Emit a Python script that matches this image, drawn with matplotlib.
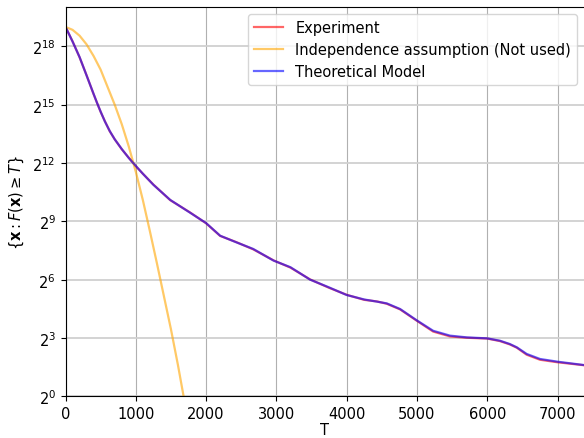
"""
Tail counts |{x : F(x) >= T}| for experiment, independence assumption and model.
"""

import matplotlib
matplotlib.use("Agg")
import matplotlib.pyplot as plt
from matplotlib.ticker import NullLocator

# log2 of the counts
t_model = [0, 100, 200, 300, 400, 450, 500, 560, 630, 700, 800, 900, 1000, 1100, 1250,
           1490, 1770, 2000, 2200, 2430, 2670, 2960, 3200, 3480, 3750, 4000, 4250, 4430,
           4570, 4760, 5000, 5230, 5470, 5710, 6000, 6180, 6320, 6420, 6560, 6750, 7000,
           7370]
log_model = [19.0, 18.25, 17.45, 16.5, 15.55, 15.08, 14.64, 14.14, 13.64, 13.22, 12.72,
             12.26, 11.85, 11.45, 10.88, 10.1, 9.45, 8.91, 8.26, 7.92, 7.58, 6.98, 6.64,
             6.0, 5.6, 5.21, 4.98, 4.87, 4.78, 4.49, 3.9, 3.37, 3.12, 3.03, 2.98, 2.86,
             2.69, 2.52, 2.18, 1.92, 1.78, 1.61]
log_exp = [19.0, 18.26, 17.44, 16.51, 15.54, 15.08, 14.63, 14.15, 13.63, 13.22, 12.71,
           12.27, 11.84, 11.45, 10.89, 10.09, 9.46, 8.9, 8.25, 7.93, 7.56, 6.99, 6.62,
           6.01, 5.58, 5.22, 4.96, 4.88, 4.76, 4.47, 3.88, 3.33, 3.08, 3.01, 2.97, 2.84,
           2.67, 2.5, 2.14, 1.88, 1.75, 1.6]

t_indep = [0, 100, 200, 300, 400, 500, 600, 700, 800, 900, 1000, 1100, 1200, 1300, 1400,
           1500, 1600, 1680]
log_indep = [19.0, 18.85, 18.55, 18.1, 17.5, 16.8, 15.9, 15.0, 14.0, 12.85, 11.55, 10.1,
             8.5, 6.85, 5.15, 3.45, 1.6, 0.0]

y_exponents = [0, 3, 6, 9, 12, 15, 18]


def main():
    plt.rcParams["font.size"] = 10.5
    fig = plt.figure(figsize=(5.84, 4.39), dpi=100)
    ax = fig.add_axes([65.5 / 584, 41.7 / 439, 1 - 65.5 / 584, (397.3 - 7.5) / 439])

    ax.plot(t_model, [2 ** v for v in log_exp], color="r", alpha=0.6, lw=1.6,
            label="Experiment")
    ax.plot(t_indep, [2 ** v for v in log_indep], color="orange", alpha=0.6, lw=1.6,
            label="Independence assumption (Not used)")
    ax.plot(t_model, [2 ** v for v in log_model], color="b", alpha=0.6, lw=1.6,
            label="Theoretical Model")

    ax.set_yscale("log", base=2)
    ax.set_yticks([2 ** e for e in y_exponents])
    ax.yaxis.set_minor_locator(NullLocator())
    ax.set_ylim(1, 2 ** 20.05)
    ax.set_xlim(0, 7376)

    ax.grid(axis="x", color="#b0b0b0", lw=0.8)
    ax.grid(axis="y", color="#d0d0d0", lw=1.3)
    ax.spines["right"].set_visible(False)

    ax.set_xlabel("T", labelpad=1)
    ax.set_ylabel(r"$\{\mathbf{x} : F(\mathbf{x}) \geq T\}$")
    ax.legend(loc="upper right")

    fig.savefig("out.png", dpi=100)


if __name__ == "__main__":
    main()
